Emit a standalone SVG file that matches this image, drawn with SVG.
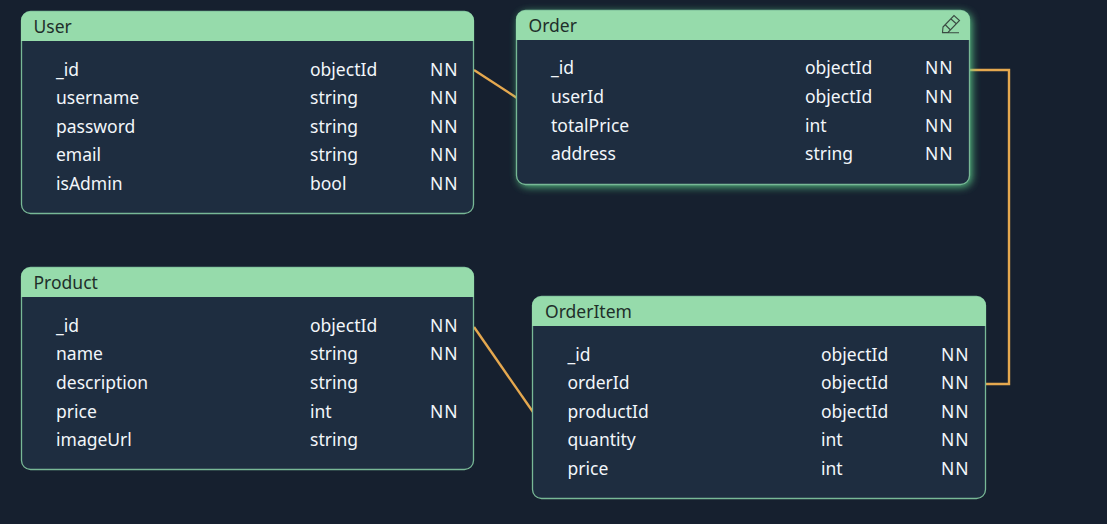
<svg xmlns="http://www.w3.org/2000/svg" width="1107" height="524" viewBox="0 0 1107 524">
<style>
text{font-family:"Noto Sans","Open Sans","Liberation Sans",sans-serif;font-size:17.5px;transform:translateY(-.5px)}
.t{fill:#1f2f2a}
.f{fill:#f2f6fa}
.n{fill:#f2f6fa;letter-spacing:1px}
.b{fill:#1e2d40;stroke:#78b896;stroke-width:1.3}
.h{fill:#96dbab}
.c{fill:none;stroke:#e5a84f;stroke-width:2.4}
</style>
<defs>
<filter id="glow" x="-10%" y="-20%" width="120%" height="140%"><feGaussianBlur stdDeviation="4.500"/></filter>
</defs>
<rect width="1107" height="524" fill="#16202f"/>
<g id="connectors">
<path class="c" d="M474 70L517 98"/>
<path class="c" d="M474 327L533 412"/>
<path class="c" d="M970 70H1009V384H986"/>
</g>
<g id="node-user">
<rect class="b" x="21.5" y="11.5" width="452" height="202" rx="9"/>
<path class="h" d="M21 41V20.500a9 9 0 0 1 9-9H465a9 9 0 0 1 9 9V41Z"/>
<text class="t" x="33.500" y="33">User</text>
<text class="f" x="56" y="76">_id</text><text class="f" x="310" y="76">objectId</text><text class="n" x="430" y="76">NN</text>
<text class="f" x="56" y="104">username</text><text class="f" x="310" y="104">string</text><text class="n" x="430" y="104">NN</text>
<text class="f" x="56" y="133">password</text><text class="f" x="310" y="133">string</text><text class="n" x="430" y="133">NN</text>
<text class="f" x="56" y="161">email</text><text class="f" x="310" y="161">string</text><text class="n" x="430" y="161">NN</text>
<text class="f" x="56" y="190">isAdmin</text><text class="f" x="310" y="190">bool</text><text class="n" x="430" y="190">NN</text>
</g>
<g id="node-order">
<rect x="518.500" y="12.500" width="453" height="174" rx="9" fill="#5fd08c" opacity=".95" filter="url(#glow)"/>
<rect class="b" x="516.500" y="10.500" width="453" height="174" rx="9"/>
<path class="h" d="M516 40V19.500a9 9 0 0 1 9-9H961a9 9 0 0 1 9 9V40Z"/>
<text class="t" x="528.500" y="32">Order</text>
<path d="M943 27L954 15.500L959.500 20.500L948 32.500L942.500 32.500ZM945.500 25L950.500 30M951 19L956 23.500M942 32.800H959" fill="none" stroke="#3a4a42" stroke-width="1.100"/>
<text class="f" x="551" y="74">_id</text><text class="f" x="805" y="74">objectId</text><text class="n" x="925" y="74">NN</text>
<text class="f" x="551" y="103">userId</text><text class="f" x="805" y="103">objectId</text><text class="n" x="925" y="103">NN</text>
<text class="f" x="551" y="132">totalPrice</text><text class="f" x="805" y="132">int</text><text class="n" x="925" y="132">NN</text>
<text class="f" x="551" y="160">address</text><text class="f" x="805" y="160">string</text><text class="n" x="925" y="160">NN</text>
</g>
<g id="node-product">
<rect class="b" x="21.5" y="267.500" width="452" height="202" rx="9"/>
<path class="h" d="M21 297V276.500a9 9 0 0 1 9-9H465a9 9 0 0 1 9 9V297Z"/>
<text class="t" x="33.500" y="289">Product</text>
<text class="f" x="56" y="332">_id</text><text class="f" x="310" y="332">objectId</text><text class="n" x="430" y="332">NN</text>
<text class="f" x="56" y="360">name</text><text class="f" x="310" y="360">string</text><text class="n" x="430" y="360">NN</text>
<text class="f" x="56" y="389">description</text><text class="f" x="310" y="389">string</text>
<text class="f" x="56" y="418">price</text><text class="f" x="310" y="418">int</text><text class="n" x="430" y="418">NN</text>
<text class="f" x="56" y="446">imageUrl</text><text class="f" x="310" y="446">string</text>
</g>
<g id="node-orderitem">
<rect class="b" x="532.500" y="296.500" width="453" height="202" rx="9"/>
<path class="h" d="M532 326V305.500a9 9 0 0 1 9-9H977a9 9 0 0 1 9 9V326Z"/>
<text class="t" x="545" y="318">OrderItem</text>
<text class="f" x="567.500" y="361">_id</text><text class="f" x="821" y="361">objectId</text><text class="n" x="941" y="361">NN</text>
<text class="f" x="567.500" y="389">orderId</text><text class="f" x="821" y="389">objectId</text><text class="n" x="941" y="389">NN</text>
<text class="f" x="567.500" y="418">productId</text><text class="f" x="821" y="418">objectId</text><text class="n" x="941" y="418">NN</text>
<text class="f" x="567.500" y="446">quantity</text><text class="f" x="821" y="446">int</text><text class="n" x="941" y="446">NN</text>
<text class="f" x="567.500" y="475">price</text><text class="f" x="821" y="475">int</text><text class="n" x="941" y="475">NN</text>
</g>
</svg>
